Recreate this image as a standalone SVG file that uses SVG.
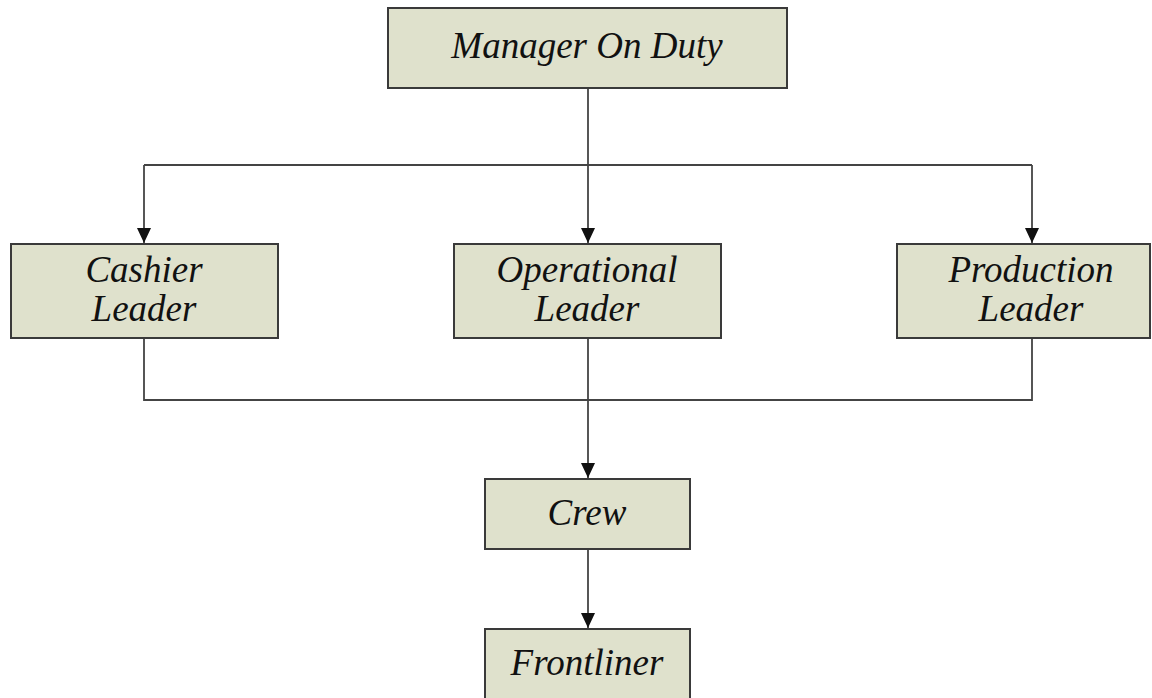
<svg xmlns="http://www.w3.org/2000/svg" width="1152" height="698" viewBox="0 0 1152 698">
<style>
.box{fill:#dfe1cc;stroke:#3a3a3a;stroke-width:2}
.lbl{font-family:"Liberation Serif","Times New Roman",serif;font-style:italic;font-size:37px;fill:#111;text-anchor:middle}
.ln{fill:none;stroke:#444;stroke-width:1.8}
</style>
<defs>
<marker id="ah" markerWidth="15" markerHeight="14" refX="15" refY="7" orient="auto" markerUnits="userSpaceOnUse" viewBox="0 0 15 14">
<path d="M0,0 L15,7 L0,14 Z" fill="#111"/>
</marker>
</defs>
<rect width="1152" height="698" fill="#fff"/>
<g id="connectors">
<path class="ln" d="M588,88 V165"/>
<path class="ln" d="M144,165 H1032"/>
<path class="ln" d="M144,165 V243" marker-end="url(#ah)"/>
<path class="ln" d="M588,165 V243" marker-end="url(#ah)"/>
<path class="ln" d="M1032,165 V243" marker-end="url(#ah)"/>
<path class="ln" d="M144,338 V400 H1032 V338"/>
<path class="ln" d="M588,338 V478" marker-end="url(#ah)"/>
<path class="ln" d="M588,549 V628" marker-end="url(#ah)"/>
</g>
<g id="manager">
<rect class="box" x="388" y="8" width="399" height="80"/>
<text class="lbl" x="587" y="58">Manager On Duty</text>
</g>
<g id="cashier">
<rect class="box" x="11" y="244" width="267" height="94"/>
<text class="lbl" x="144" y="282">Cashier</text>
<text class="lbl" x="144" y="321">Leader</text>
</g>
<g id="operational">
<rect class="box" x="454" y="244" width="267" height="94"/>
<text class="lbl" x="587" y="282">Operational</text>
<text class="lbl" x="587" y="321">Leader</text>
</g>
<g id="production">
<rect class="box" x="897" y="244" width="253" height="94"/>
<text class="lbl" x="1031" y="282">Production</text>
<text class="lbl" x="1031" y="321">Leader</text>
</g>
<g id="crew">
<rect class="box" x="485" y="479" width="205" height="70"/>
<text class="lbl" x="587" y="525">Crew</text>
</g>
<g id="frontliner">
<rect class="box" x="485" y="629" width="205" height="80"/>
<text class="lbl" x="587" y="675">Frontliner</text>
</g>
</svg>
